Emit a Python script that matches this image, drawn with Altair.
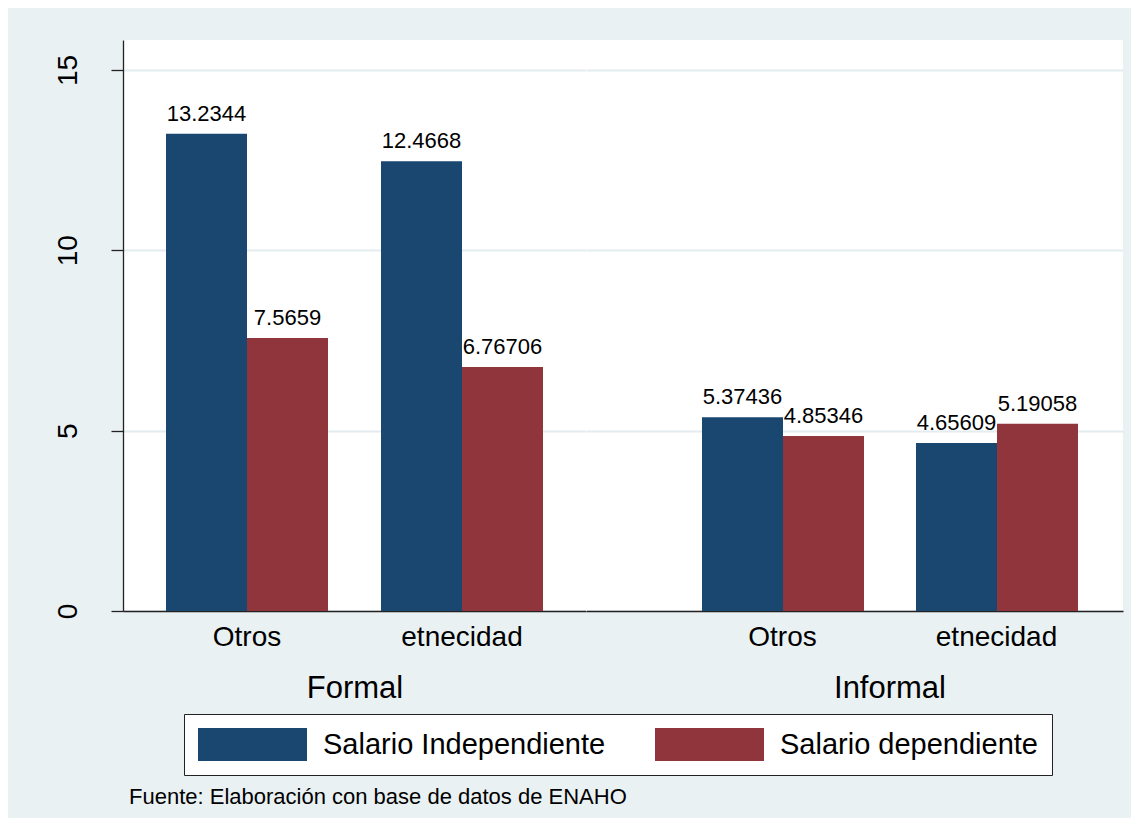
import altair as alt
import pandas as pd

grupos = ["Formal", "Formal", "Informal", "Informal"]
subgrupos = ["Otros", "etnecidad", "Otros", "etnecidad"]
series = ["Salario Independiente", "Salario dependiente"]
salario_independiente = [13.2344, 12.4668, 5.37436, 4.65609]
salario_dependiente = [7.5659, 6.76706, 4.85346, 5.19058]
y_ticks = [0, 5, 10, 15]
colores = ["#1A476F", "#90353B"]
fuente = "Fuente: Elaboración con base de datos de ENAHO"

rows = []
for g, s, a, b in zip(grupos, subgrupos, salario_independiente, salario_dependiente):
    rows.append({"grupo": g, "sub": s, "serie": series[0], "valor": a})
    rows.append({"grupo": g, "sub": s, "serie": series[1], "valor": b})
df = pd.DataFrame(rows)

FONT = "Liberation Sans"
GRID = "#E3ECEF"
BG = "#EAF1F3"

legend = alt.Legend(
    title=None, orient="none", legendX=61, legendY=674, direction="horizontal",
    symbolType="M-3.303,-1H3.303V1H-3.303Z", symbolSize=1089, symbolStrokeWidth=0,
    symbolOffset=38, labelOffset=54, labelFontSize=29, labelFont=FONT, labelColor="black",
    labelLimit=400, columnPadding=49, padding=14, fillColor="white",
    strokeColor="#222", cornerRadius=0,
)


def panel(grupo, width, p_inner, p_outer, align, title_x, first):
    d = df[df["grupo"] == grupo]
    if first:
        yaxis = alt.Axis(values=y_ticks, title=None, labelAngle=270, labelAlign="center",
                         labelBaseline="alphabetic", labelPadding=35, labelFontSize=28,
                         labelColor="black", tickSize=12, tickColor="#222", tickWidth=1.3,
                         domainColor="#222", domainWidth=1.3, grid=True, gridColor=GRID,
                         gridWidth=2)
    else:
        yaxis = alt.Axis(values=y_ticks, title=None, orient="right", labels=False,
                         ticks=False, domain=False, grid=True, gridColor=GRID, gridWidth=2)
    xscale = alt.Scale(paddingInner=p_inner, paddingOuter=p_outer, align=align)
    axis_kwargs = dict(title=grupo, labelAngle=0, labelFontSize=28, labelColor="black",
                       labelPadding=12, ticks=False, tickSize=0, domainColor="#222",
                       domainWidth=1.3, titleFontSize=31, titleFontWeight="normal",
                       titleColor="black", titlePadding=22, grid=False)
    if title_x is not None:
        axis_kwargs["titleX"] = title_x
    base = alt.Chart(d).encode(
        x=alt.X("sub:N", sort=subgrupos[:2], scale=xscale, axis=alt.Axis(**axis_kwargs)),
        xOffset=alt.XOffset("serie:N", sort=series,
                            scale=alt.Scale(paddingInner=0, paddingOuter=0)),
        y=alt.Y("valor:Q", scale=alt.Scale(domain=[0, 15.83], nice=False), axis=yaxis),
    )
    bars = base.mark_bar(strokeWidth=0).encode(
        color=alt.Color("serie:N", sort=series,
                        scale=alt.Scale(domain=series, range=colores), legend=legend)
    )
    text = base.mark_text(baseline="alphabetic", align="center", dy=-13, fontSize=22,
                          font=FONT, color="black").encode(
        text=alt.Text("valor:Q", format=".6~g")
    )
    return (bars + text).properties(width=width, height=571)


left = panel("Formal", 463, 0.2465, 0.2, 0.5, None, True)
right = panel("Informal", 537, 0.2477, 0.3785, 0.716, 303.5, False)

chart = alt.hconcat(left, right, spacing=0, bounds="flush").resolve_scale(
    y="shared", color="shared"
).properties(
    background=BG,
    padding={"left": 45, "top": 32, "right": 8, "bottom": 10},
    title=alt.Title(fuente, orient="bottom", anchor="start", frame="bounds", offset=11,
                    fontSize=22, font=FONT, fontWeight="normal", color="black", dx=75),
).configure(
    font=FONT,
    view=alt.ViewConfig(fill="white", stroke="transparent", strokeWidth=0),
)

chart.save("out.html", embed_options={"renderer": "svg", "actions": False})
